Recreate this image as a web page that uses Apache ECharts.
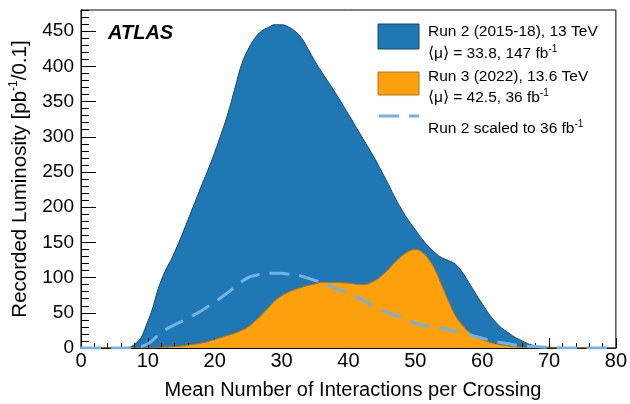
<!DOCTYPE html>
<html>
<head>
<meta charset="utf-8">
<script src="https://cdn.jsdelivr.net/npm/echarts@6/dist/echarts.min.js"></script>
<style>html,body{margin:0;padding:0;background:#fff}#chart{width:630px;height:404px}</style>
</head>
<body>
<div id="chart"></div>
<script>
// mean number of interactions per crossing (denser where curves bend)
var mu = [0,2,4,6,8,10,12,14,16,
          18,19,20,21,22,23,24,25,26,27,28,29,30,31,32,33,34,35,36,
          38,40,42,
          44,45,46,47,48,49,50,51,52,53,54,55,56,57,58,
          60,62,64,66,68,70,72,74,76,78,80];
// Run 2 (2015-18), 13 TeV
var run2 = [0,0,0,0,5,38,96,136,182,
            230,253,278,305,334,368,402,424,440,450,455,459,459,456,450,440,424,407,392,
            363,332,300,
            268,250,232,213,196,181,168,155,144,135,128,124,119,108,93,
            63,37,21,10,3,1,0,0,0,0,0];
// Run 3 (2022), 13.6 TeV
var run3 = [0,0,0,0,0,0,1,2,4,
            7,9,12,15,18,21,25,30,38,47,57,67,74,79,83,86,89,91,93,
            93,92,90,
            96,103,112,122,131,137,140,136,126,110,88,66,46,33,23,
            12,6,3,1,0,0,0,0,0,0,0];
// Run 2 scaled to 36 fb-1
var run2Scaled = [0,0,0,0,1,6,22,33,42,
                  53,59,65,72,79,87,94,100,103,105,106,106,106,105,104,102,99,96,93,
                  85,77,69,
                  58,54,50,46,43,39,35,33,31,29,28,26,24,22,19,
                  14,9,6,3,2,1,0,0,0,0,0];

var font = 'Liberation Sans';
var chart = echarts.init(document.getElementById('chart'));

function pairs(vals) {
	return mu.map(function(m, i) { return [m, vals[i]]; });
}

var sup = {fontSize: 10, fontFamily: font, fill: '#000', padding: [0, 0, 10, 0]};
var leg = {fontSize: 15.5, fontFamily: font, fill: '#000'};

chart.setOption({
	animation: false,
	grid: {left: 81, right: 11, top: 10, bottom: 56, show: true, borderColor: '#000', borderWidth: 1},
	xAxis: {
		type: 'value', min: 0, max: 80, interval: 10, z: 3,
		axisLine: {lineStyle: {color: '#000', width: 1}},
		axisTick: {inside: true, length: 10, lineStyle: {color: '#000'}},
		minorTick: {show: true, splitNumber: 5, length: 5, lineStyle: {color: '#000'}},
		splitLine: {show: false},
		axisLabel: {margin: 3, color: '#000', fontSize: 20, fontFamily: font}
	},
	yAxis: [{
		type: 'value', min: 0, max: 480, interval: 50, z: 3,
		axisLine: {show: true, lineStyle: {color: '#000', width: 1}},
		axisTick: {show: true, inside: true, length: 15, lineStyle: {color: '#000'}},
		splitLine: {show: false},
		axisLabel: {margin: 7, color: '#000', fontSize: 19, fontFamily: font, showMaxLabel: false}
	}, {
		type: 'value', min: 0, max: 480, interval: 10, position: 'left', z: 3,
		axisLine: {show: false},
		axisTick: {show: true, inside: true, length: 8, lineStyle: {color: '#000'}},
		splitLine: {show: false},
		axisLabel: {show: false}
	}],
	series: [{
		name: 'Run 2', type: 'line', z: 2, smooth: true, symbol: 'none',
		data: pairs(run2),
		lineStyle: {color: '#17466e', width: 1},
		areaStyle: {color: '#1f77b4', opacity: 1}
	}, {
		name: 'Run 3', type: 'line', z: 4, smooth: true, symbol: 'none',
		data: pairs(run3),
		lineStyle: {color: '#b57614', width: 1},
		areaStyle: {color: '#fda00e', opacity: 1}
	}, {
		name: 'Run 2 scaled', type: 'line', z: 5, smooth: true, symbol: 'none',
		data: pairs(run2Scaled),
		lineStyle: {color: '#74b3e6', width: 3, type: [20, 10]}
	}],
	graphic: [
		{type: 'text', left: 108, top: 23, z: 10,
		 style: {text: 'ATLAS', fill: '#000', font: 'italic bold 20px "Liberation Sans"'}},
		{type: 'rect', shape: {x: 378, y: 24, width: 41, height: 25}, z: 10,
		 style: {fill: '#1f77b4', stroke: '#17466e', lineWidth: 1}},
		{type: 'rect', shape: {x: 378, y: 72, width: 41, height: 23}, z: 10,
		 style: {fill: '#fda00e', stroke: '#b57614', lineWidth: 1}},
		{type: 'line', shape: {x1: 379, y1: 116, x2: 419, y2: 116}, z: 10,
		 style: {stroke: '#74b3e6', lineWidth: 3, lineDash: [20, 10]}},
		{type: 'text', x: 428, y: 32, z: 10,
		 style: {text: 'Run 2 (2015-18), 13 TeV', fill: '#000', fontSize: 15.5, fontFamily: font, textVerticalAlign: 'middle'}},
		{type: 'text', x: 428, y: 54, z: 10,
		 style: {text: '{a|⟨μ⟩ = 33.8, 147 fb}{s|-1}', textVerticalAlign: 'middle', rich: {a: leg, s: sup}}},
		{type: 'text', x: 428, y: 77, z: 10,
		 style: {text: 'Run 3 (2022), 13.6 TeV', fill: '#000', fontSize: 15.5, fontFamily: font, textVerticalAlign: 'middle'}},
		{type: 'text', x: 428, y: 98, z: 10,
		 style: {text: '{a|⟨μ⟩ = 42.5, 36 fb}{s|-1}', textVerticalAlign: 'middle', rich: {a: leg, s: sup}}},
		{type: 'text', x: 428, y: 129, z: 10,
		 style: {text: '{a|Run 2 scaled to 36 fb}{s|-1}', textVerticalAlign: 'middle', rich: {a: leg, s: sup}}},
		{type: 'text', x: 353, y: 390, z: 10,
		 style: {text: 'Mean Number of Interactions per Crossing', fill: '#000', fontSize: 20, fontFamily: font,
		  textAlign: 'center', textVerticalAlign: 'middle'}},
		{type: 'text', x: 20, y: 179, rotation: Math.PI / 2, z: 10,
		 style: {text: '{a|Recorded Luminosity [pb}{s|-1}{a|/0.1]}', textAlign: 'center', textVerticalAlign: 'middle',
		  rich: {a: {fontSize: 20.5, fontFamily: font, fill: '#000'}, s: {fontSize: 12, fontFamily: font, fill: '#000', padding: [0, 0, 12, 0]}}}}
	]
});
</script>
</body>
</html>
